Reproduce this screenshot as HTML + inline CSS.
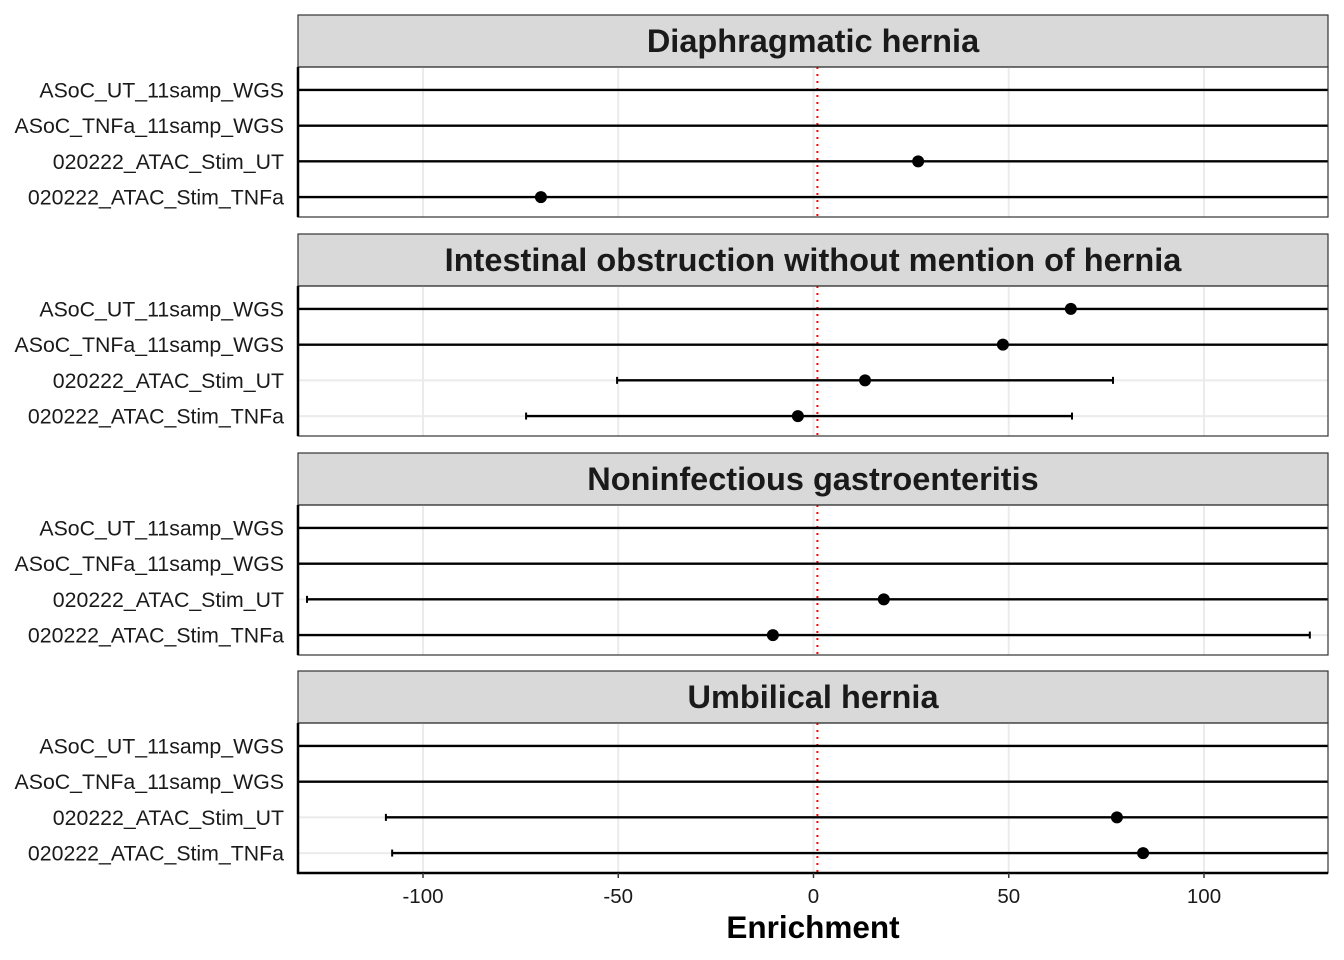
<!DOCTYPE html>
<html><head><meta charset="utf-8"><style>
html,body{margin:0;padding:0;background:#fff;}
svg{display:block;font-family:"Liberation Sans",Arial,sans-serif;}
</style></head><body>
<svg id="chart" width="1344" height="960" xmlns="http://www.w3.org/2000/svg"></svg>
<script>
const panelTitles = ["Diaphragmatic hernia","Intestinal obstruction without mention of hernia","Noninfectious gastroenteritis","Umbilical hernia"];
const rowLabels = ["ASoC_UT_11samp_WGS","ASoC_TNFa_11samp_WGS","020222_ATAC_Stim_UT","020222_ATAC_Stim_TNFa"];
// estimates per panel (null = no point); CI bounds (null = unbounded)
const estimates = [[null,null,26.8,-69.8],[65.9,48.5,13.2,-4.0],[null,null,18.0,-10.4],[null,null,77.7,84.4]];
const lowerCI = [[null,null,null,null],[null,null,-50.3,-73.6],[null,null,-129.7,null],[null,null,-109.5,-107.9]];
const upperCI = [[null,null,null,null],[null,null,76.7,66.2],[null,null,null,127.1],[null,null,null,null]];
const xTicks = [-100,-50,0,50,100];
const nullValue = 1;

const svg = document.getElementById('chart');
const NS = "http://www.w3.org/2000/svg";
const L = 298, R = 1328;
const x = v => 813.5 + v * 3.905;
const panelTops = [15,234,453,671];
const stripH = 52, plotH = 150;
function mk(tag, attrs, parent){const e=document.createElementNS(NS,tag);for(const k in attrs)e.setAttribute(k,attrs[k]);(parent||svg).appendChild(e);return e;}

panelTitles.forEach((title,p)=>{
  const g = mk('g',{});
  
  
  const top = panelTops[p], pt = top+stripH, pb = pt+plotH;
  const strip = mk('rect',{x:L,y:top,width:R-L,height:stripH,fill:'#d9d9d9',stroke:'#333','stroke-width':1.2},g);
  
  
  const st = mk('text',{x:(L+R)/2,y:top+37,'text-anchor':'middle','font-size':32.5,'font-weight':'bold',fill:'#1a1a1a'},g);
  st.textContent = title;
  
  
  const yr = i => pt + 1.5 + (0.6 + i) * (plotH/4.2);
  xTicks.forEach(t=>{const gl=mk('line',{x1:x(t),x2:x(t),y1:pt,y2:pb,stroke:'#ebebeb','stroke-width':2},g);
    });
  rowLabels.forEach((lab,i)=>{
    mk('line',{x1:L,x2:R,y1:yr(i),y2:yr(i),stroke:'#ebebeb','stroke-width':2},g);
    const tl = mk('text',{x:284,y:yr(i)+7.5,'text-anchor':'end','font-size':21.3,fill:'#1a1a1a'},g);
    tl.textContent = lab;
    
    
  });
  const vl = mk('line',{x1:x(nullValue),x2:x(nullValue),y1:pt,y2:pb,stroke:'#ff0000','stroke-width':2,'stroke-dasharray':'2,5'},g);
  
  
  rowLabels.forEach((lab,i)=>{
    const y = yr(i);
    const lo = lowerCI[p][i], hi = upperCI[p][i];
    const x1 = lo===null?L:Math.max(L,x(lo)), x2 = hi===null?R:Math.min(R,x(hi));
    const eb = mk('line',{x1:x1,x2:x2,y1:y,y2:y,stroke:'#000','stroke-width':2.4},g);
    
    
    if(lo!==null) mk('line',{x1:x(lo),x2:x(lo),y1:y-3.5,y2:y+3.5,stroke:'#000','stroke-width':2},g);
    if(hi!==null) mk('line',{x1:x(hi),x2:x(hi),y1:y-3.5,y2:y+3.5,stroke:'#000','stroke-width':2},g);
    const e = estimates[p][i];
    if(e!==null){const c=mk('circle',{cx:x(e),cy:y,r:6,fill:'#000'},g);
      }
  });
  const bd = mk('rect',{x:L,y:pt,width:R-L,height:plotH,fill:'none',stroke:'#333','stroke-width':1.2},g);
  
  
  mk('line',{x1:L,x2:L,y1:pt,y2:pb+(p===3?1:0),stroke:'#000','stroke-width':2.5},g);
});
const bottom = panelTops[3]+stripH+plotH;
const ax = mk('line',{x1:L-1,x2:R,y1:bottom,y2:bottom,stroke:'#000','stroke-width':2.5});


xTicks.forEach(t=>{
  mk('line',{x1:x(t),x2:x(t),y1:bottom,y2:bottom+5,stroke:'#333','stroke-width':1.5});
  const tx = mk('text',{x:x(t),y:903,'text-anchor':'middle','font-size':20.5,fill:'#1a1a1a'});
  tx.textContent = t;
  
  
});
const xt = mk('text',{x:(L+R)/2,y:938,'text-anchor':'middle','font-size':31.5,'font-weight':'bold',fill:'#000'});
xt.textContent = 'Enrichment';


</script>
</body></html>
